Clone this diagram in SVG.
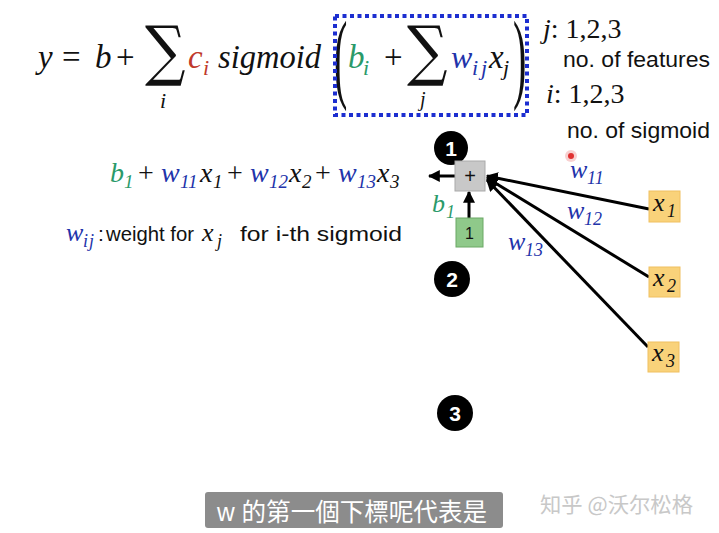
<svg xmlns="http://www.w3.org/2000/svg" width="719" height="533" viewBox="0 0 719 533">
<style>
.m{font-family:"Liberation Serif","DejaVu Serif",serif;font-style:italic;fill:#111}
.u{font-family:"Liberation Serif","DejaVu Serif",serif;fill:#111}
.sg{font-family:"DejaVu Serif",serif;fill:#111;font-size:66px}
.s{font-family:"Liberation Sans","Open Sans",sans-serif;fill:#111}
.red{fill:#c0392b}.grn{fill:#2a9a6a}.blu{fill:#2233aa}
.num{font-family:"Liberation Sans",sans-serif;font-weight:bold;font-size:21px;fill:#fff;text-anchor:middle}
.ln{stroke:#000;stroke-width:3;fill:none}
.xb{fill:#f9d27a;stroke:#f0c060;stroke-width:1}
</style>
<defs>
<marker id="ah" viewBox="0 0 10 10" refX="9" refY="5" markerWidth="4" markerHeight="4" orient="auto-start-reverse" markerUnits="strokeWidth">
<path d="M0,0 L10,5 L0,10 z" fill="#000"/>
</marker>
</defs>
<rect width="719" height="533" fill="#fff"/>

<g id="formula">
<text class="m" x="38" y="68" font-size="33">y</text>
<text class="u" x="62" y="68" font-size="33">=</text>
<text class="m" x="95" y="68" font-size="33">b</text>
<text class="u" x="116" y="68" font-size="33">+</text>
<text class="sg" transform="translate(145,73) scale(0.86,1)">∑</text>
<text class="m" x="160" y="108" font-size="22">i</text>
<text class="m red" x="188" y="68" font-size="33">c</text>
<text class="m red" x="203" y="75" font-size="22">i</text>
<text class="m" x="218" y="68" font-size="33" textLength="103" lengthAdjust="spacingAndGlyphs">sigmoid</text>
<text class="u" font-size="40" transform="translate(334,90) scale(1,2.5)">(</text>
<text class="m grn" x="348" y="68" font-size="33">b</text>
<text class="m grn" x="363" y="75" font-size="22">i</text>
<text class="u" x="384" y="68" font-size="33">+</text>
<text class="sg" transform="translate(407,73) scale(0.86,1)">∑</text>
<text class="m" x="420" y="106" font-size="20">j</text>
<text class="m blu" x="451" y="68" font-size="32">w</text>
<text class="m blu" x="472" y="75" font-size="22" letter-spacing="3">ij</text>
<text class="m" x="489" y="68" font-size="33">x</text>
<text class="m" x="503" y="75" font-size="22">j</text>
<text class="u" font-size="40" transform="translate(513,90) scale(1,2.5)">)</text>
<rect x="335" y="16" width="192" height="99" fill="none" stroke="#1c2ed0" stroke-width="4" stroke-dasharray="4 3.5"/>
</g>

<g id="ranges">
<text x="543" y="38" font-size="28"><tspan class="m">j</tspan><tspan class="u">: 1,2,3</tspan></text>
<text class="s" x="563" y="67" font-size="22" textLength="147" lengthAdjust="spacingAndGlyphs">no. of features</text>
<text x="546" y="103" font-size="28"><tspan class="m">i</tspan><tspan class="u">: 1,2,3</tspan></text>
<text class="s" x="567" y="138" font-size="22" textLength="143" lengthAdjust="spacingAndGlyphs">no. of sigmoid</text>
</g>

<g id="expr">
<text class="m grn" x="110" y="182" font-size="28">b</text>
<text class="m grn" x="124" y="188" font-size="19">1</text>
<text class="u" x="138" y="182" font-size="28">+</text>
<text class="m blu" x="161" y="182" font-size="28">w</text>
<text class="m blu" x="180" y="188" font-size="19">11</text>
<text class="m" x="200" y="182" font-size="28">x</text>
<text class="m" x="213" y="188" font-size="19">1</text>
<text class="u" x="227" y="182" font-size="28">+</text>
<text class="m blu" x="250" y="182" font-size="28">w</text>
<text class="m blu" x="269" y="188" font-size="19">12</text>
<text class="m" x="289" y="182" font-size="28">x</text>
<text class="m" x="302" y="188" font-size="19">2</text>
<text class="u" x="315" y="182" font-size="28">+</text>
<text class="m blu" x="338" y="182" font-size="28">w</text>
<text class="m blu" x="357" y="188" font-size="19">13</text>
<text class="m" x="377" y="182" font-size="28">x</text>
<text class="m" x="390" y="188" font-size="19">3</text>
</g>

<g id="wdef">
<text class="m blu" x="66" y="241" font-size="26">w</text>
<text class="m blu" x="83" y="247" font-size="18" letter-spacing="1">ij</text>
<text class="s" x="98" y="241" font-size="21">:</text>
<text class="s" x="106" y="241" font-size="21" textLength="88" lengthAdjust="spacingAndGlyphs">weight for</text>
<text class="m" x="202" y="241" font-size="26">x</text>
<text class="m" x="217" y="247" font-size="18">j</text>
<text class="s" x="240" y="241" font-size="21" textLength="162" lengthAdjust="spacingAndGlyphs">for i-th sigmoid</text>
</g>

<g id="n1"><circle cx="451" cy="148" r="17" fill="#000"/><text class="num" x="451" y="156">1</text></g>
<g id="n2"><circle cx="452" cy="279" r="18" fill="#000"/><text class="num" x="452" y="287">2</text></g>
<g id="n3"><circle cx="455" cy="413" r="18" fill="#000"/><text class="num" x="455" y="421">3</text></g>

<g id="connectors">
<line class="ln" x1="455" y1="176" x2="429" y2="176" marker-end="url(#ah)"/>
<line class="ln" x1="469" y1="218" x2="469" y2="192" marker-end="url(#ah)"/>
<line class="ln" x1="649" y1="209" x2="487" y2="176" marker-end="url(#ah)"/>
<line class="ln" x1="649" y1="277" x2="487" y2="178" marker-end="url(#ah)"/>
<line class="ln" x1="648" y1="347" x2="487" y2="180" marker-end="url(#ah)"/>
</g>

<g id="weights">
<text class="m blu" x="570" y="178" font-size="26">w</text>
<text class="m blu" x="587" y="184" font-size="18">11</text>
<text class="m blu" x="567" y="219" font-size="26">w</text>
<text class="m blu" x="584" y="225" font-size="18">12</text>
<text class="m blu" x="508" y="250" font-size="26">w</text>
<text class="m blu" x="525" y="256" font-size="18">13</text>
</g>

<g id="plus">
<rect x="455" y="161" width="30" height="30" fill="#c8c8c8" stroke="#aaa" stroke-width="1"/>
<text class="s" x="470" y="183" font-size="20" text-anchor="middle">+</text>
</g>
<g id="bias">
<rect x="456" y="218" width="27" height="29" fill="#8fc98a" stroke="#6aa865" stroke-width="1"/>
<text class="s" x="469.5" y="239" font-size="16" text-anchor="middle">1</text>
<text class="m grn" x="432" y="212" font-size="26">b</text>
<text class="m grn" x="446" y="218" font-size="18">1</text>
</g>

<g id="x1"><rect class="xb" x="649" y="191" width="31" height="31"/><text class="m" x="653" y="211" font-size="26">x</text><text class="m" x="667" y="217" font-size="18">1</text></g>
<g id="x2"><rect class="xb" x="649" y="267" width="31" height="30"/><text class="m" x="653" y="286" font-size="26">x</text><text class="m" x="667" y="292" font-size="18">2</text></g>
<g id="x3"><rect class="xb" x="648" y="342" width="31" height="30"/><text class="m" x="652" y="361" font-size="26">x</text><text class="m" x="666" y="367" font-size="18">3</text></g>

<g id="pointer"><circle cx="571" cy="156" r="6" fill="#f4b0b0" opacity="0.6"/><circle cx="571" cy="156" r="3" fill="#e03030"/></g>

<g id="subtitle">
<rect x="205" y="492" width="298" height="36" rx="3" fill="#8c8c8c"/>
<text x="217" y="521" font-size="25" fill="#fff" textLength="270" lengthAdjust="spacingAndGlyphs" font-family="'Liberation Sans','Noto Sans CJK TC',sans-serif">w 的第一個下標呢代表是</text>
</g>
<text x="540" y="512" font-size="21" fill="#c8c8c8" textLength="153" lengthAdjust="spacingAndGlyphs" font-family="'Noto Sans CJK SC',sans-serif">知乎 @沃尔松格</text>
</svg>
